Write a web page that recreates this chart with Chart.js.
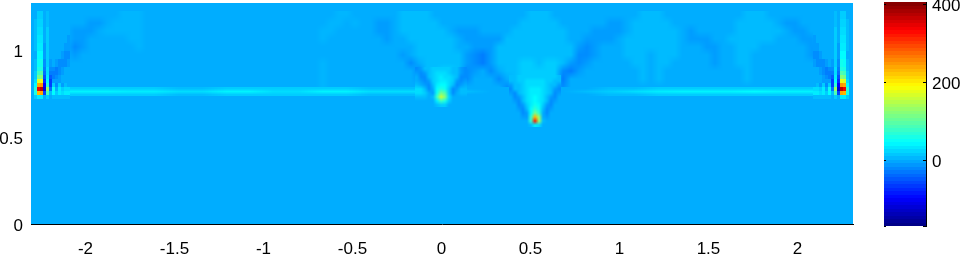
<!DOCTYPE html>
<html>
<head>
<meta charset="utf-8">
<script src="https://cdn.jsdelivr.net/npm/chart.js@4"></script>
<style>
html, body { margin: 0; padding: 0; background: #fff; overflow: hidden; }
#field { position: absolute; left: 0; top: 0; }
#bar { position: absolute; left: 884px; top: 0; }
</style>
</head>
<body>
<canvas id="field" width="860" height="254"></canvas>
<canvas id="bar" width="76" height="254"></canvas>
<script>
const xTickValues = [-2, -1.5, -1, -0.5, 0, 0.5, 1, 1.5, 2];
const yTickValues = [0, 0.5, 1];
const barTickValues = [0, 200, 400];

// field, wide cells, rows from the top down
const coarseXStart = -2.306, coarseXStep = 0.04494;
const coarseYStart = 1.224, coarseYStep = -0.04598;
const coarseValues = [
  [0,0,0,0,0,0,0,0,0,0, 0,5,5,5,0,0,0,0,0,0, 0,0,0,0,0,0,0,0,0,0, 0,0,0,0,0,0,0,0,5,5, 0,0,0,0,0,0,9,9,9,9, 0,0,0,0,0,0,0,0,0,0, 0,0,9,9,9,0,0,0,0,0, 0,0,0,0,0,0,8,8,8,0, 0,0,0,0,0,0,0,0,0,8, 8,8,0,0,0,0,0,0,0,0, 0,0,0],
  [0,0,0,0,0,0,0,-9,-9,0, 5,5,5,5,0,0,0,0,0,0, 0,0,0,0,0,0,0,0,0,0, 0,0,0,0,0,0,0,5,5,0, 5,0,0,-9,-9,0,9,9,9,9, 9,0,0,0,0,0,0,0,0,0, 0,9,9,9,9,9,0,0,0,0, 0,0,-9,-9,0,8,8,8,8,8, 0,0,0,0,0,0,0,0,8,8, 8,8,8,0,-9,-9,0,0,0,0, 0,0,0],
  [0,0,0,0,0,-9,-9,-9,0,5, 5,5,5,5,0,0,0,0,0,0, 0,0,0,0,0,0,0,0,0,0, 0,0,0,0,0,0,5,5,0,0, 0,0,0,-9,-9,0,9,9,9,9, 9,9,0,-9,-9,-9,0,0,0,0, 9,9,9,9,9,9,9,0,0,0, -9,-9,-9,-9,0,8,8,8,8,8, 8,0,-9,0,0,0,0,0,8,8, 8,8,8,8,0,-9,-9,0,0,0, 0,0,0],
  [0,0,0,0,0,-9,-9,0,0,0, 0,0,5,5,0,0,0,0,0,0, 0,0,0,0,0,0,0,0,0,0, 0,0,0,0,0,0,5,0,0,0, 0,0,0,0,-9,0,0,9,9,9, 9,9,9,0,-9,-9,-9,-9,-9,9, 9,9,9,9,9,9,9,0,0,-9, -9,-9,-9,0,8,8,8,8,8,8, 8,0,-9,-9,-9,0,0,8,8,8, 8,8,8,0,0,0,-9,-9,0,0, 0,0,0],
  [0,0,0,0,0,-18,-9,0,0,0, 0,0,0,5,0,0,0,0,0,0, 0,0,0,0,0,0,0,0,0,0, 0,0,0,0,0,0,0,0,0,0, 0,0,0,0,0,0,0,0,9,9, 9,9,9,0,0,-9,-9,-9,9,9, 9,9,9,9,9,9,9,9,-9,-18, -9,0,0,0,8,8,8,8,8,8, 8,0,0,0,-9,-9,0,0,8,8, 8,0,0,0,0,0,0,-9,-9,0, 0,0,0],
  [0,0,0,0,0,-9,0,0,0,0, 0,0,0,0,0,0,0,0,0,0, 0,0,0,0,0,0,0,0,0,0, 0,0,0,0,0,0,0,0,0,0, 0,0,0,0,0,0,-9,0,9,9, 9,9,9,9,-9,-18,-27,-9,9,9, 9,9,9,9,9,9,9,9,-18,-18, -9,0,0,0,8,8,8,0,8,8, 8,0,0,0,0,-9,0,0,8,8, 0,0,0,0,0,0,0,-9,-18,0, 0,0,0],
  [0,0,0,0,0,0,0,0,0,0, 0,0,0,0,0,0,0,0,0,0, 0,0,0,0,0,0,0,0,0,0, 0,0,0,0,0,0,5,0,0,0, 0,0,0,0,0,0,0,-18,0,9, 9,9,9,9,-9,-18,-27,-9,9,9, 9,18,18,9,18,18,9,-9,-18,-9, 0,0,0,0,0,8,8,0,8,8, 0,0,0,0,0,-9,0,0,8,8, 0,0,0,0,0,0,0,0,0,0, 0,0,0],
  [0,0,0,0,0,0,0,0,0,0, 0,0,0,0,0,0,0,0,0,0, 0,0,0,0,0,0,0,0,0,0, 0,0,0,0,0,0,5,0,0,0, 0,0,0,0,0,0,0,0,-18,9, 9,18,18,9,-18,-9,0,-18,0,9, 9,18,18,18,18,18,-18,-27,-9,0, 0,0,0,0,0,0,8,0,8,0, 0,0,0,0,0,0,0,0,0,8, 0,0,0,0,0,0,0,0,0,0, 0,0,0],
  [0,0,0,0,0,0,0,0,0,0, 0,0,0,0,0,0,0,0,0,0, 0,0,0,0,0,0,0,0,0,0, 0,0,0,0,0,0,5,0,0,0, 0,0,0,0,0,0,0,0,-9,9, 9,18,18,9,-18,0,0,0,-18,0, 9,18,18,18,18,18,-27,0,0,0, 0,0,0,0,0,0,8,0,8,0, 0,0,0,0,0,0,0,0,0,8, 0,0,0,0,0,0,0,0,0,0, 0,0,0],
  [0,0,0,0,0,0,0,0,0,0, 0,0,0,0,0,0,0,0,0,0, 0,0,0,0,0,0,0,0,0,0, 0,0,0,0,0,0,5,0,0,0, 0,0,0,0,0,0,0,0,0,0, 0,0,0,0,0,0,0,0,0,-18, 0,0,0,0,0,0,-18,0,0,0, 0,0,0,0,0,0,0,0,0,0, 0,0,0,0,0,0,0,0,0,0, 0,0,0,0,0,0,0,0,0,0, 0,0,0]
];

// thin horizontal streak
const streakXStart = -2.087, streakXStep = 0.1348;
const streakYEdges = [0.787, 0.770, 0.753, 0.736];
const streakValues = [
  [18,18,18,18,9,9,18,18,18,18,18,18,9,9,9,0,0,0,0,0,0,0,9,9,18,18,18,18,18,18,18],
  [40,40,36,36,27,27,40,40,27,27,40,40,27,27,27,0,9,0,0,0,0,9,18,27,36,40,40,40,45,40,40],
  [18,18,18,18,9,9,18,18,18,18,18,18,9,9,9,0,0,0,0,0,0,0,9,9,18,18,18,18,18,18,18]
];

// the two ends, narrow cells
const sideYEdges = [1.270, 1.224, 1.178, 1.132, 1.086, 1.040, 0.994, 0.948, 0.902, 0.879, 0.856, 0.833, 0.810, 0.787, 0.764, 0.741, 0.718];
const sideXStep = 0.01685;
const leftXStart = -2.306;
const leftValues = [
  [0,0,0,0,0,0,0,0,0,0,0,0,0],
  [0,0,18,18,0,9,0,0,0,0,0,0,0],
  [0,9,22,22,0,9,0,0,0,0,0,0,0],
  [0,9,27,27,0,18,0,0,0,0,0,0,0],
  [0,9,32,32,0,18,0,0,0,0,0,0,-9],
  [0,9,36,36,-9,18,0,0,0,0,0,-9,-9],
  [0,0,45,45,-9,18,0,0,0,0,-9,-18,-18],
  [0,9,50,55,-18,18,-9,0,-9,-18,-18,-18,-9],
  [0,9,60,63,-27,27,-18,-18,-27,-18,-9,0,0],
  [0,18,80,90,-36,27,-27,-27,-27,-18,-9,0,0],
  [0,18,110,120,-54,36,-45,-27,-18,-9,0,0,0],
  [0,27,170,180,-72,45,-63,-9,-9,-9,0,0,0],
  [0,45,240,250,-100,72,-63,18,-18,18,-9,9,0],
  [0,72,340,370,-120,130,-36,54,0,36,18,27,27],
  [0,60,230,240,-60,90,9,45,18,36,27,36,36],
  [0,18,36,36,0,18,0,9,9,9,9,9,9]
];
const rightXStart = 2.087;
const rightValues = [
  [0,0,0,0,0,0,0,0,0,0,0,0,0],
  [0,0,0,0,0,0,0,9,0,18,18,0,0],
  [0,0,0,0,0,0,0,9,0,22,22,9,0],
  [0,0,0,0,0,0,0,18,0,27,27,9,0],
  [-9,0,0,0,0,0,0,18,0,32,32,9,0],
  [-9,-9,0,0,0,0,0,18,-9,36,36,9,0],
  [-18,-18,-9,0,0,0,0,18,-9,45,45,0,0],
  [-9,-18,-18,-18,-9,0,-9,18,-18,55,50,9,0],
  [0,0,-9,-18,-27,-18,-18,27,-27,63,60,9,0],
  [0,0,-9,-18,-27,-27,-27,27,-36,90,80,18,0],
  [0,0,0,-9,-18,-27,-45,36,-54,120,110,18,0],
  [0,0,0,-9,-9,-9,-63,45,-72,180,170,27,0],
  [0,9,-9,18,-18,18,-63,72,-100,250,240,45,0],
  [27,27,18,36,0,54,-36,130,-120,370,340,72,0],
  [36,36,27,36,18,45,9,90,-60,240,230,60,0],
  [9,9,9,9,9,9,0,18,0,36,36,18,0]
];

// the two sources in the middle
const peakXStep = 0.02247, peakYStep = -0.02299;
const peakAXStart = -0.1489, peakAYStart = 0.902;
const peakAValues = [
  [-18,-9,9,9,18,18,18,18,18,9,9,-9,-18],
  [-9,-18,-9,9,18,27,27,27,18,9,9,-9,-18],
  [0,-18,-18,9,18,27,36,27,27,18,9,-18,-18],
  [0,-9,-18,-9,18,27,36,36,27,18,-9,-18,-9],
  [9,0,-9,-18,9,36,45,45,27,9,-18,-9,0],
  [27,27,9,-18,0,45,63,54,18,-18,-9,9,9],
  [27,27,18,0,-9,54,110,90,18,-18,0,9,9],
  [9,9,9,0,9,80,160,120,27,0,0,0,0],
  [0,0,0,0,0,36,80,60,18,0,0,0,0],
  [0,0,0,0,0,9,18,18,0,0,0,0,0]
];
const peakBXStart = 0.3792, peakBYStart = 0.856;
const peakBValues = [
  [9,9,18,18,18,18,18,18,18,18,18,18,9],
  [9,9,18,18,27,27,27,27,27,18,18,9,9],
  [-9,9,9,18,27,27,27,27,27,18,9,9,-9],
  [-18,9,9,18,27,36,36,36,27,18,9,-9,-18],
  [-9,-18,9,18,27,36,36,36,27,18,9,-18,-9],
  [0,-18,-9,9,27,36,45,36,27,9,-9,-18,0],
  [0,-9,-18,9,27,36,45,36,27,9,-18,-9,0],
  [0,0,-18,-9,18,36,54,45,18,-9,-18,0,0],
  [0,0,-9,-18,9,45,72,54,9,-18,-9,0,0],
  [0,0,0,-18,-9,45,110,72,0,-18,0,0,0],
  [0,0,0,-9,-9,72,230,130,0,-9,0,0,0],
  [0,0,0,0,0,72,320,130,9,0,0,0,0],
  [0,0,0,0,0,9,36,27,0,0,0,0,0]
];

const colorMin = -169, colorMax = 405;

function jet(i) {
  // i from 0 to 64, fractions allowed
  let r = 0, g = 0, b = 0;
  if (i <= 8) b = (i + 8) / 16;
  else if (i <= 24) { g = (i - 8) / 16; b = 1; }
  else if (i <= 40) { r = (i - 24) / 16; g = 1; b = (40 - i) / 16; }
  else if (i <= 56) { r = 1; g = (56 - i) / 16; }
  else r = (72 - i) / 16;
  return `rgb(${Math.round(r * 255)},${Math.round(g * 255)},${Math.round(b * 255)})`;
}

function colorFor(v) {
  const t = (v - colorMin) / (colorMax - colorMin) * 64;
  return jet(Math.min(64, Math.max(0, t)));
}

function cells(xEdges, yEdges, values) {
  const out = [];
  values.forEach((row, r) => {
    row.forEach((v, c) => {
      out.push({
        x: (xEdges[c] + xEdges[c + 1]) / 2,
        y: (yEdges[r] + yEdges[r + 1]) / 2,
        x0: xEdges[c], x1: xEdges[c + 1],
        y0: yEdges[r], y1: yEdges[r + 1],
        row: r, col: c,
        v: v
      });
    });
  });
  return out;
}

function edges(start, step, n) {
  return Array.from({ length: n + 1 }, (_, i) => start + i * step);
}

function layer(xStart, xStep, yEdges, values, smooth) {
  return {
    data: cells(edges(xStart, xStep, values[0].length), yEdges, values),
    pointRadius: 0,
    smooth: smooth,
    cols: values[0].length,
    rows: values.length
  };
}

// smooth layers are painted one pixel per cell, then stretched onto the scales
function drawSmooth(ctx, scales, ds) {
  const off = document.createElement('canvas');
  off.width = ds.cols;
  off.height = ds.rows;
  const o = off.getContext('2d');
  ds.data.forEach(p => {
    o.fillStyle = colorFor(p.v);
    o.fillRect(p.col, p.row, 1, 1);
  });
  const first = ds.data[0], last = ds.data[ds.data.length - 1];
  const l = Math.round(scales.x.getPixelForValue(first.x0));
  const r = Math.round(scales.x.getPixelForValue(last.x1));
  const t = Math.round(scales.y.getPixelForValue(first.y0));
  const b = Math.round(scales.y.getPixelForValue(last.y1));
  ctx.imageSmoothingEnabled = true;
  ctx.drawImage(off, l, t, r - l, b - t);
}

const cellPlugin = {
  id: 'cells',
  beforeDatasetsDraw(chart) {
    const { ctx, scales, chartArea } = chart;
    ctx.save();
    ctx.beginPath();
    ctx.rect(chartArea.left, chartArea.top, chartArea.right - chartArea.left, chartArea.bottom - chartArea.top);
    ctx.clip();
    ctx.fillStyle = colorFor(0);
    if (chart.canvas.id === 'field') ctx.fillRect(chartArea.left, chartArea.top, chartArea.right - chartArea.left, chartArea.bottom - chartArea.top);
    chart.data.datasets.forEach(ds => {
      if (ds.smooth) {
        drawSmooth(ctx, scales, ds);
        return;
      }
      ds.data.forEach(p => {
        const l = Math.round(scales.x.getPixelForValue(p.x0));
        const r = Math.round(scales.x.getPixelForValue(p.x1));
        const t = Math.round(scales.y.getPixelForValue(Math.max(p.y0, p.y1)));
        const b = Math.round(scales.y.getPixelForValue(Math.min(p.y0, p.y1)));
        ctx.fillStyle = colorFor(p.v);
        ctx.fillRect(l, t, r - l, b - t);
      });
    });
    ctx.restore();
  }
};

const innerTicks = {
  id: 'innerTicks',
  afterDraw(chart) {
    const { ctx, scales, chartArea } = chart;
    ctx.save();
    ctx.fillStyle = '#000';
    barTickValues.forEach(v => {
      const y = Math.round(scales.y.getPixelForValue(v));
      ctx.fillRect(chartArea.left, y, 2, 1);
      ctx.fillRect(chartArea.right - 3, y, 3, 1);
    });
    ctx.fillRect(chartArea.left, chartArea.bottom, 2, 1);
    ctx.fillRect(chartArea.right - 3, chartArea.bottom, 3, 1);
    ctx.restore();
  }
};

const tickFont = { family: '"Liberation Sans", Arial, sans-serif', size: 17 };

// y labels sit a little under their tick in the reference
const yLabels = {
  id: 'yLabels',
  afterDraw(chart) {
    const { ctx, scales, chartArea } = chart;
    const right = scales.y.options.position === 'right';
    ctx.save();
    ctx.fillStyle = '#000';
    ctx.font = `${tickFont.size}px ${tickFont.family}`;
    ctx.textAlign = right ? 'left' : 'right';
    ctx.textBaseline = 'middle';
    scales.y.ticks.forEach(t => {
      const x = right ? chartArea.right + 6 : chartArea.left - 8;
      ctx.fillText(String(t.value), x, scales.y.getPixelForValue(t.value) + 2);
    });
    ctx.restore();
  }
};

function noMargins(s) {
  s.paddingTop = 0;
  s.paddingBottom = 0;
  s.paddingLeft = 0;
  s.paddingRight = 0;
}

new Chart(document.getElementById('field'), {
  type: 'scatter',
  data: {
    datasets: [
      layer(coarseXStart, coarseXStep, edges(coarseYStart, coarseYStep, coarseValues.length), coarseValues, true),
      layer(streakXStart, streakXStep, streakYEdges, streakValues, true),
      layer(leftXStart, sideXStep, sideYEdges, leftValues, false),
      layer(rightXStart, sideXStep, sideYEdges, rightValues, false),
      layer(peakAXStart, peakXStep, edges(peakAYStart, peakYStep, peakAValues.length), peakAValues, true),
      layer(peakBXStart, peakXStep, edges(peakBYStart, peakYStep, peakBValues.length), peakBValues, true)
    ]
  },
  options: {
    responsive: false,
    animation: false,
    events: [],
    layout: { padding: { top: 3, right: 7, bottom: 0, left: 0 } },
    plugins: { legend: { display: false }, tooltip: { enabled: false } },
    scales: {
      x: {
        type: 'linear',
        min: -2.306,
        max: 2.312,
        afterBuildTicks: s => { s.ticks = xTickValues.map(v => ({ value: v })); },
        afterFit: s => { s.height = 30; noMargins(s); },
        grid: { display: false, drawTicks: false },
        border: { display: true, color: '#000', width: 1, dash: [4, 2] },
        ticks: { color: '#000', font: tickFont, padding: 15, autoSkip: false, maxRotation: 0, callback: v => String(v) }
      },
      y: {
        type: 'linear',
        min: 0,
        max: 1.27,
        afterBuildTicks: s => { s.ticks = yTickValues.map(v => ({ value: v })); },
        afterFit: s => { s.width = 31; noMargins(s); },
        grid: { display: false, drawTicks: false },
        border: { display: true, color: '#000', width: 1 },
        ticks: { display: false }
      }
    }
  },
  plugins: [cellPlugin, yLabels]
});

const barEdges = edges(colorMin, (colorMax - colorMin) / 64, 64);
const barCells = barEdges.slice(0, 64).map((e, i) => ({
  x: 0.5, y: (e + barEdges[i + 1]) / 2,
  x0: 0, x1: 1, y0: e, y1: barEdges[i + 1],
  v: (e + barEdges[i + 1]) / 2
}));

new Chart(document.getElementById('bar'), {
  type: 'scatter',
  data: { datasets: [{ data: barCells, pointRadius: 0 }] },
  options: {
    responsive: false,
    animation: false,
    events: [],
    layout: { padding: { top: 2, right: 0, bottom: 28, left: 0 } },
    plugins: { legend: { display: false }, tooltip: { enabled: false } },
    scales: {
      x: { type: 'linear', min: 0, max: 1, display: false },
      y: {
        type: 'linear',
        position: 'right',
        min: colorMin,
        max: colorMax,
        afterBuildTicks: s => { s.ticks = barTickValues.map(v => ({ value: v })); },
        afterFit: s => { s.width = 34; noMargins(s); },
        grid: { display: false, drawTicks: false },
        border: { display: true, color: '#000', width: 1 },
        ticks: { display: false }
      }
    }
  },
  plugins: [cellPlugin, innerTicks, yLabels]
});
</script>
</body>
</html>
